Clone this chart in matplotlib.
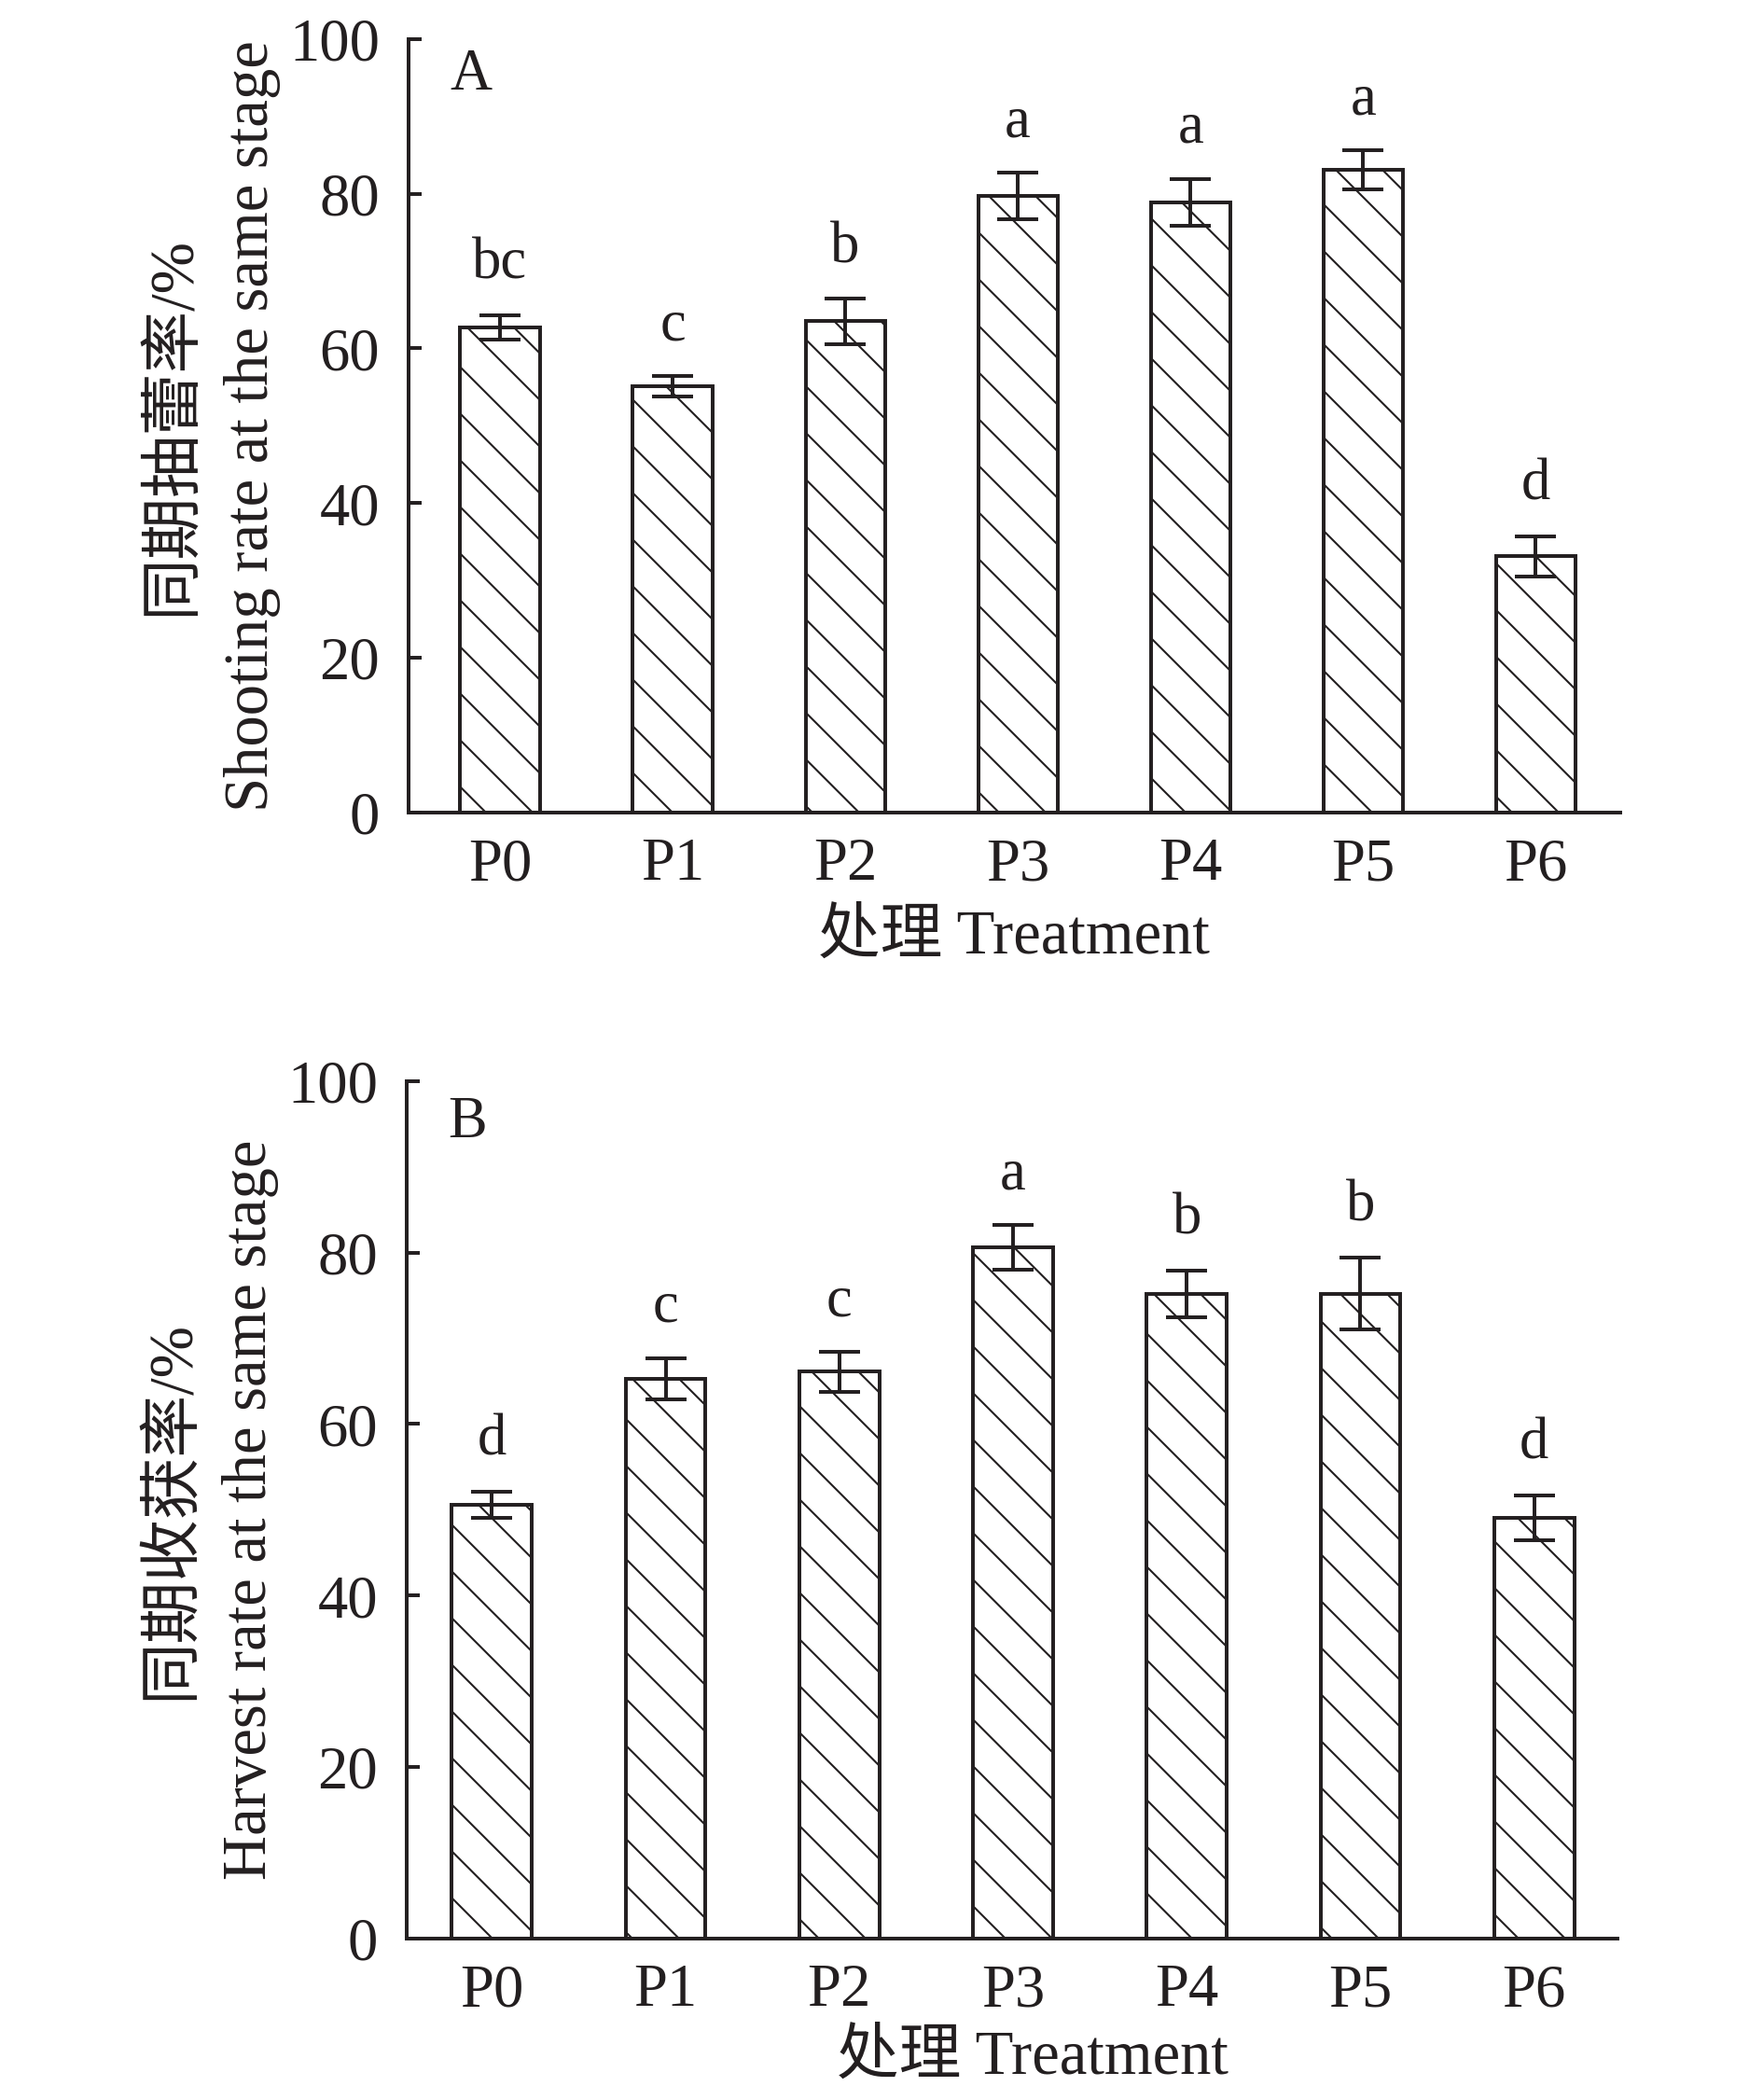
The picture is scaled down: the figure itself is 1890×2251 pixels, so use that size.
import numpy as np
import matplotlib
matplotlib.use('Agg')
import matplotlib.pyplot as plt

ink = '#231f20'
plt.rcParams['font.family'] = ['Liberation Serif', 'Noto Sans CJK SC']
plt.rcParams['hatch.linewidth'] = 0.5
plt.rcParams['text.color'] = ink

treatments = ['P0', 'P1', 'P2', 'P3', 'P4', 'P5', 'P6']

# A: shooting rate at the same stage (%)
shoot_mean = [62.7, 55.1, 63.5, 79.7, 78.9, 83.1, 33.1]
shoot_err = [1.6, 1.3, 2.9, 3.0, 3.0, 2.5, 2.6]
shoot_sig = ['bc', 'c', 'b', 'a', 'a', 'a', 'd']

# B: harvest rate at the same stage (%)
harv_mean = [50.6, 65.3, 66.1, 80.6, 75.2, 75.2, 49.1]
harv_err = [1.5, 2.4, 2.3, 2.6, 2.7, 4.2, 2.6]
harv_sig = ['d', 'c', 'c', 'a', 'b', 'b', 'd']

fig = plt.figure(figsize=(6.3, 2251 / 300), dpi=300)
axA = fig.add_axes([0.2317, 0.6131, 0.6873, 0.3683])
axB = fig.add_axes([0.2307, 0.0769, 0.6868, 0.4083])


def panel(ax, means, errs, sig, tag, cn, en, xlim, xlab_x, xlab_y, xpad):
    x = np.arange(len(treatments))
    ax.bar(x, means, width=0.46, facecolor='white', edgecolor=ink,
           linewidth=0.95, hatch='\\\\', zorder=2)
    ax.errorbar(x, means, yerr=errs, fmt='none', ecolor=ink, elinewidth=0.95,
                capsize=5.2, capthick=0.95, zorder=3)
    for xi, m, e, s in zip(x, means, errs, sig):
        ax.annotate(s, (xi, m + e), xytext=(0, 9.4), textcoords='offset points',
                    ha='center', va='baseline', fontsize=15)
    ax.set_xlim(*xlim)
    ax.set_ylim(0, 100)
    ax.set_yticks(np.arange(0, 101, 20))
    ax.set_xticks(x)
    ax.set_xticklabels(treatments)
    for side in ['top', 'right']:
        ax.spines[side].set_visible(False)
    for side in ['left', 'bottom']:
        ax.spines[side].set_linewidth(0.95)
        ax.spines[side].set_color(ink)
    ax.tick_params(axis='y', direction='in', length=3.4, width=0.95, pad=7.4,
                   labelsize=15.5, colors=ink)
    ax.tick_params(axis='x', length=0, pad=xpad, labelsize=15.5, colors=ink)
    ax.text(0.034, 0.935, tag, transform=ax.transAxes, fontsize=15,
            ha='left', va='baseline')
    ax.text(-0.129, 0.5, en, transform=ax.transAxes, fontsize=16,
            rotation=90, ha='center', va='center')
    ax.text(-0.194, 0.5, cn, transform=ax.transAxes, fontsize=16,
            rotation=90, ha='center', va='center')
    ax.text(xlab_x, xlab_y, '处理 Treatment', transform=ax.transAxes,
            fontsize=16, ha='center', va='baseline')


panel(axA, shoot_mean, shoot_err, shoot_sig, 'A', '同期抽蕾率/%',
      'Shooting rate at the same stage', (-0.53, 6.49), 0.5, -0.182, 6.5)
panel(axB, harv_mean, harv_err, harv_sig, 'B', '同期收获率/%',
      'Harvest rate at the same stage', (-0.49, 6.48), 0.517, -0.158, 6.5)

fig.savefig('out.png', dpi=300)
